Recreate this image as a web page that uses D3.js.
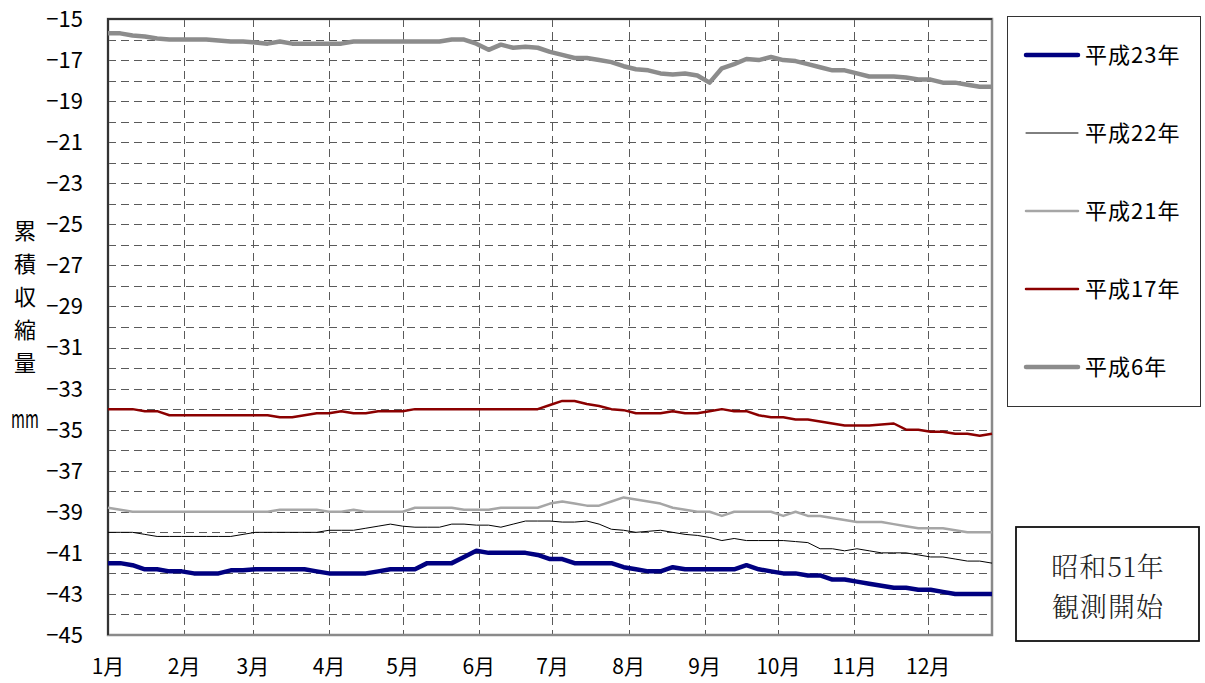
<!DOCTYPE html>
<html>
<head>
<meta charset="utf-8">
<script src="https://d3js.org/d3.v7.min.js"></script>
<style>
  body { margin: 0; background: #fff; }
  text { font-family: "Noto Sans CJK JP", "Noto Sans", sans-serif; fill: #000; }
</style>
</head>
<body>
  <div id="chart"></div>
  <script>
    // 半旬ごと (5日おき) の累積収縮量 mm
    var h23 = [-41.5,-41.5,-41.6,-41.8,-41.8,-41.9,-41.9,-42.0,-42.0,-42.0,-41.85,-41.85,-41.8,-41.8,-41.8,-41.8,-41.8,-41.9,-42.0,-42.0,-42.0,-42.0,-41.9,-41.8,-41.8,-41.8,-41.5,-41.5,-41.5,-41.2,-40.9,-41.0,-41.0,-41.0,-41.0,-41.1,-41.3,-41.3,-41.5,-41.5,-41.5,-41.5,-41.7,-41.8,-41.9,-41.9,-41.7,-41.8,-41.8,-41.8,-41.8,-41.8,-41.6,-41.8,-41.9,-42.0,-42.0,-42.1,-42.1,-42.3,-42.3,-42.4,-42.5,-42.6,-42.7,-42.7,-42.8,-42.8,-42.9,-43.0,-43.0,-43.0,-43.0];
    var h22 = [-40.0,-40.0,-40.0,-40.1,-40.2,-40.2,-40.2,-40.2,-40.2,-40.2,-40.2,-40.1,-40.0,-40.0,-40.0,-40.0,-40.0,-40.0,-39.9,-39.9,-39.9,-39.8,-39.7,-39.6,-39.7,-39.75,-39.75,-39.75,-39.6,-39.6,-39.65,-39.65,-39.75,-39.6,-39.45,-39.45,-39.45,-39.5,-39.5,-39.45,-39.6,-39.85,-39.9,-40.0,-39.95,-39.9,-40.0,-40.1,-40.15,-40.25,-40.4,-40.3,-40.4,-40.4,-40.4,-40.4,-40.45,-40.5,-40.8,-40.8,-40.9,-40.8,-40.9,-41.0,-41.0,-41.0,-41.1,-41.2,-41.2,-41.3,-41.4,-41.4,-41.5];
    var h21 = [-38.8,-38.9,-39.0,-39.0,-39.0,-39.0,-39.0,-39.0,-39.0,-39.0,-39.0,-39.0,-39.0,-39.0,-38.9,-38.9,-38.9,-38.9,-39.0,-39.0,-38.9,-39.0,-39.0,-39.0,-39.0,-38.8,-38.8,-38.8,-38.8,-38.9,-38.9,-38.9,-38.8,-38.8,-38.8,-38.8,-38.6,-38.5,-38.6,-38.7,-38.7,-38.5,-38.3,-38.4,-38.5,-38.6,-38.8,-38.9,-39.0,-39.0,-39.2,-39.0,-39.0,-39.0,-39.0,-39.2,-39.0,-39.2,-39.2,-39.3,-39.4,-39.5,-39.5,-39.5,-39.6,-39.7,-39.8,-39.8,-39.8,-39.9,-40.0,-40.0,-40.0];
    var h17 = [-34.0,-34.0,-34.0,-34.1,-34.1,-34.3,-34.3,-34.3,-34.3,-34.3,-34.3,-34.3,-34.3,-34.3,-34.4,-34.4,-34.3,-34.2,-34.2,-34.1,-34.2,-34.2,-34.1,-34.1,-34.1,-34.0,-34.0,-34.0,-34.0,-34.0,-34.0,-34.0,-34.0,-34.0,-34.0,-34.0,-33.8,-33.6,-33.6,-33.75,-33.85,-34.0,-34.05,-34.2,-34.2,-34.2,-34.1,-34.2,-34.2,-34.1,-34.0,-34.1,-34.1,-34.3,-34.4,-34.4,-34.5,-34.5,-34.6,-34.7,-34.8,-34.8,-34.8,-34.75,-34.7,-35.0,-35.0,-35.1,-35.1,-35.2,-35.2,-35.3,-35.2];
    var h6 = [-15.7,-15.7,-15.8,-15.85,-15.95,-16.0,-16.0,-16.0,-16.0,-16.05,-16.1,-16.1,-16.15,-16.2,-16.1,-16.2,-16.2,-16.2,-16.2,-16.2,-16.1,-16.1,-16.1,-16.1,-16.1,-16.1,-16.1,-16.1,-16.0,-16.0,-16.2,-16.5,-16.25,-16.4,-16.35,-16.4,-16.6,-16.75,-16.9,-16.9,-17.0,-17.1,-17.3,-17.45,-17.5,-17.65,-17.7,-17.65,-17.75,-18.1,-17.4,-17.2,-16.95,-17.0,-16.85,-17.0,-17.05,-17.2,-17.35,-17.5,-17.5,-17.65,-17.8,-17.8,-17.8,-17.85,-17.95,-17.95,-18.1,-18.1,-18.2,-18.3,-18.3];

    var years = ["平成23年", "平成22年", "平成21年", "平成17年", "平成6年"];
    var colors = ["#000080", "#000000", "#a6a6a6", "#8b0000", "#8c8c8c"];
    var widths = [4.5, 1, 2.5, 2.5, 4.5];
    var seriesData = [h23, h22, h21, h17, h6];
    var monthLabels = ["1月","2月","3月","4月","5月","6月","7月","8月","9月","10月","11月","12月"];

    var W = 1205, H = 683;
    var plot = {left: 108, right: 992, top: 19, bottom: 635};

    var svg = d3.select("#chart").append("svg")
      .attr("width", W)
      .attr("height", H);

    var start = new Date(2011, 0, 1);
    var x = d3.scaleTime()
      .domain([start, d3.timeDay.offset(start, 360)])
      .range([plot.left, plot.right]);
    var y = d3.scaleLinear()
      .domain([-45, -15])
      .range([plot.bottom, plot.top]);

    var months = d3.timeMonth.range(start, new Date(2011, 11, 2));
    var crisp = function(v) { return Math.round(v) + 0.5; };

    // grid
    var grid = svg.append("g");
    grid.selectAll("line.h")
      .data(d3.range(-44, -15))
      .enter().append("line")
      .attr("class", "h")
      .attr("x1", plot.left).attr("x2", plot.right)
      .attr("y1", function(d) { return crisp(y(d)); })
      .attr("y2", function(d) { return crisp(y(d)); })
      .style("stroke", "#5a5a5a")
      .style("stroke-width", 1)
      .style("stroke-dasharray", "8,5");
    grid.selectAll("line.v")
      .data(months.slice(1))
      .enter().append("line")
      .attr("class", "v")
      .attr("y1", plot.top).attr("y2", plot.bottom)
      .attr("x1", function(d) { return crisp(x(d)); })
      .attr("x2", function(d) { return crisp(x(d)); })
      .style("stroke", "#5a5a5a")
      .style("stroke-width", 1)
      .style("stroke-dasharray", "8,5");

    // plot frame
    svg.append("rect")
      .attr("x", plot.left).attr("y", plot.top)
      .attr("width", plot.right - plot.left)
      .attr("height", plot.bottom - plot.top)
      .style("fill", "none")
      .style("stroke", "#8a8a8a")
      .style("stroke-width", 2.5);
    svg.append("path")
      .attr("d", "M" + plot.left + "," + plot.bottom + "V" + plot.top + "H" + plot.right)
      .style("fill", "none")
      .style("stroke", "#333")
      .style("stroke-width", 2);

    // y axis labels
    svg.selectAll("text.ytick")
      .data(d3.range(-15, -46, -2))
      .enter().append("text")
      .attr("class", "ytick")
      .attr("x", 83)
      .attr("y", function(d) { return y(d); })
      .attr("dy", "0.36em")
      .attr("text-anchor", "end")
      .style("font-size", "22px")
      .text(function(d) { return d3.format("d")(d); });

    // x axis labels
    svg.selectAll("text.xtick")
      .data(months)
      .enter().append("text")
      .attr("class", "xtick")
      .attr("x", function(d) { return x(d); })
      .attr("y", 674)
      .attr("text-anchor", "middle")
      .style("font-size", "21px")
      .text(function(d, i) { return monthLabels[i]; });

    // y title
    var title = "累積収縮量".split("");
    svg.selectAll("text.ytitle")
      .data(title)
      .enter().append("text")
      .attr("class", "ytitle")
      .attr("x", 25)
      .attr("y", function(d, i) { return 239 + i * 33; })
      .attr("text-anchor", "middle")
      .style("font-size", "22px")
      .text(function(d) { return d; });
    svg.append("text")
      .attr("transform", "translate(25,428) scale(0.75,1.3)")
      .attr("text-anchor", "middle")
      .style("font-size", "20px")
      .text("mm");

    // lines
    var line = d3.line()
      .x(function(d, i) { return x(d3.timeDay.offset(start, i * 5)); })
      .y(function(d) { return y(d); });

    // draw in back-to-front order
    [4, 3, 2, 1, 0].forEach(function(k) {
      svg.append("path")
        .datum(seriesData[k])
        .attr("d", line)
        .style("fill", "none")
        .style("stroke", colors[k])
        .style("stroke-width", widths[k])
        .style("stroke-linejoin", "round");
    });

    // legend
    var lg = svg.append("g");
    lg.append("rect")
      .attr("x", 1007.5).attr("y", 16.5)
      .attr("width", 193).attr("height", 390)
      .style("fill", "#fff")
      .style("stroke", "#333")
      .style("stroke-width", 1);
    var items = lg.selectAll("g.item")
      .data(years)
      .enter().append("g")
      .attr("class", "item")
      .attr("transform", function(d, i) { return "translate(1026," + (55 + i * 78) + ")"; });
    items.append("line")
      .attr("x1", 0).attr("x2", 52)
      .style("stroke", function(d, i) { return colors[i]; })
      .style("stroke-width", function(d, i) { return widths[i]; })
      .style("stroke-linecap", "round");
    items.append("text")
      .attr("x", 59)
      .attr("dy", "0.36em")
      .style("font-size", "22px")
      .style("letter-spacing", "1px")
      .text(function(d) { return d; });

    // note box
    svg.append("rect")
      .attr("x", 1016).attr("y", 527)
      .attr("width", 183).attr("height", 114)
      .style("fill", "#fff")
      .style("stroke", "#111")
      .style("stroke-width", 1.8);
    svg.selectAll("text.note")
      .data(["昭和51年", "観測開始"])
      .enter().append("text")
      .attr("class", "note")
      .attr("x", 1108)
      .attr("y", function(d, i) { return 577 + i * 40; })
      .attr("text-anchor", "middle")
      .style("font-family", "'Noto Serif CJK JP', 'DejaVu Serif', 'Noto Sans CJK JP', serif")
      .style("font-size", "27px")
      .style("letter-spacing", "1px")
      .style("font-weight", 300)
      .style("fill", "#222")
      .text(function(d) { return d; });
  </script>
</body>
</html>
